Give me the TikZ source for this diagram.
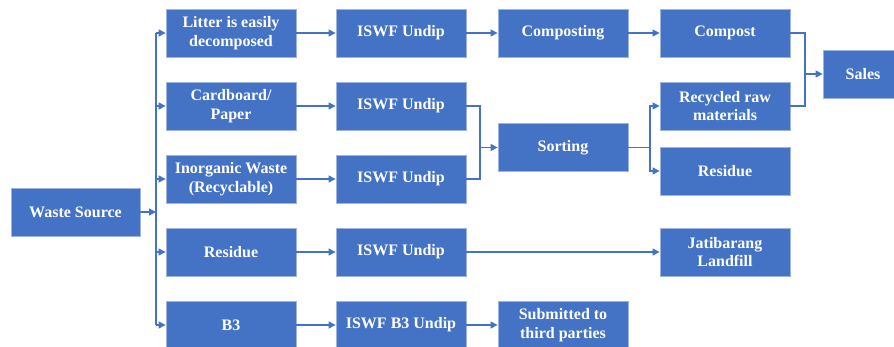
\documentclass[tikz,border=0pt]{standalone}
\usepackage{fontspec}
\setmainfont{Liberation Serif}
\usetikzlibrary{arrows.meta}
\definecolor{boxblue}{HTML}{4472C4}
\definecolor{edgeblue}{HTML}{9DB4E0}
\begin{document}
\begin{tikzpicture}[x=1pt,y=-1pt,
 box/.style={rectangle, fill=boxblue, draw=edgeblue, line width=0.8pt, text=white,
   font=\fontsize{16}{18.5}\selectfont\bfseries, align=center,
   minimum width=130pt, minimum height=48pt, inner sep=0pt},
 conn/.style={draw=boxblue, line width=1.3pt},
 arr/.style={conn, -{Triangle[length=7pt,width=7pt]}}]
\useasboundingbox (0,0) rectangle (894,347);
% column 1
\node[box, minimum width=129pt] (ws) at (75.5,212) {Waste Source};
% column 2
\node[box] (litter) at (231,33) {Litter is easily\\decomposed};
\node[box] (card) at (231,106) {Cardboard/\\Paper};
\node[box] (inorg) at (231,179) {Inorganic Waste\\(Recyclable)};
\node[box] (resa) at (231,252) {Residue};
\node[box] (bthree) at (231,325) {B3};
% column 3
\node[box] (iswfa) at (401,33) {ISWF Undip};
\node[box] (iswfb) at (401,106) {ISWF Undip};
\node[box] (iswfc) at (401,179) {ISWF Undip};
\node[box] (iswfd) at (401,252) {ISWF Undip};
\node[box] (iswfe) at (401,325) {ISWF B3 Undip};
% column 4
\node[box] (compo) at (563,33) {Composting};
\node[box] (sort) at (563,147.5) {Sorting};
\node[box] (third) at (563,325) {Submitted to\\third parties};
% column 5
\node[box] (compost) at (725,33) {Compost};
\node[box] (recyc) at (725,106) {Recycled raw\\materials};
\node[box] (resb) at (725,171) {Residue};
\node[box] (jati) at (725,252) {Jatibarang\\Landfill};
% sales
\node[box, minimum width=80pt] (sales) at (863,74) {Sales};
% coordinates
\coordinate (bx) at (156,212);
\coordinate (btop) at (156,33);
\coordinate (bbot) at (156,325);
\coordinate (mj) at (480,147.5);
\coordinate (sj) at (650,147.5);
\coordinate (sa) at (805,74);
% branch from waste source
\draw[arr] (ws.east) -- (bx);
\draw[conn] (btop) -- (bbot);
\draw[arr] (btop) -- (litter.west);
\draw[arr] (bx |- card.west) -- (card.west);
\draw[arr] (bx |- inorg.west) -- (inorg.west);
\draw[arr] (bx |- resa.west) -- (resa.west);
\draw[arr] (bbot) -- (bthree.west);
% rows
\draw[arr] (litter) -- (iswfa);
\draw[arr] (card) -- (iswfb);
\draw[arr] (inorg) -- (iswfc);
\draw[arr] (resa) -- (iswfd);
\draw[arr] (bthree) -- (iswfe);
\draw[arr] (iswfa) -- (compo);
\draw[arr] (compo) -- (compost);
\draw[arr] (iswfe) -- (third);
\draw[arr] (iswfd) -- (jati);
% merge to sorting
\draw[conn] (iswfb.east) -| (mj);
\draw[conn] (iswfc.east) -| (mj);
\draw[arr] (mj) -- (sort.west);
% split from sorting
\draw[conn] (sort.east) -- (sj);
\draw[arr] (sj) |- (recyc.west);
\draw[arr] (sj) |- (resb.west);
% sales
\draw[conn] (compost.east) -| (sa);
\draw[conn] (recyc.east) -| (sa);
\draw[arr] (sa) -- (sales.west);
\end{tikzpicture}
\end{document}
